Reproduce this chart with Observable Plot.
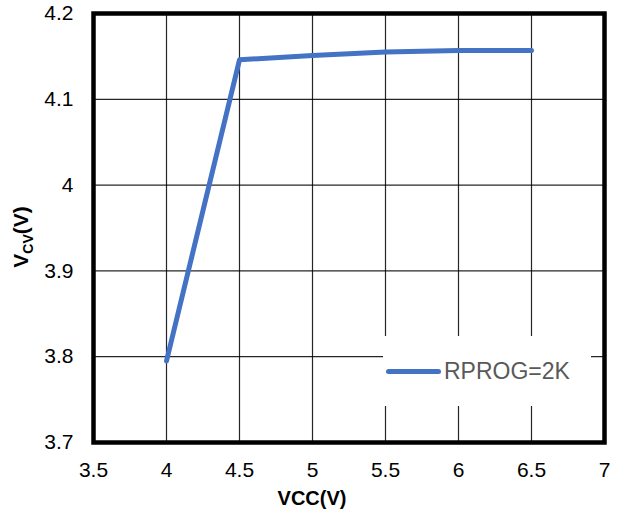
<!DOCTYPE html>
<html>
<head>
<meta charset="utf-8">
<script src="https://cdn.jsdelivr.net/npm/d3@7"></script>
<script src="https://cdn.jsdelivr.net/npm/@observablehq/plot@0.6"></script>
<style>
  body { margin: 0; background: #fff; }
  #wrap { position: relative; width: 620px; height: 515px; font-family: "Liberation Sans", Arial, sans-serif; }
  #legend { position: absolute; left: 383px; top: 336px; width: 208px; height: 70px; background: #fff;
            display: flex; align-items: center; }
  #legend .sw { width: 55px; height: 5px; background: #4472C4; border-radius: 3px; margin-left: 3px; margin-right: 3px; }
  #legend .lb { font-size: 23px; color: #595959; }
</style>
</head>
<body>
<div id="wrap"></div>
<script>
const vcc = [4, 4.5, 5, 5.5, 6, 6.5];
const vcv = [3.795, 4.146, 4.151, 4.155, 4.157, 4.157];
const xTicks = [3.5, 4, 4.5, 5, 5.5, 6, 6.5, 7];
const yTicks = [3.7, 3.8, 3.9, 4.0, 4.1, 4.2];
const yTickLabels = ["3.7", "3.8", "3.9", "4", "4.1", "4.2"];
const seriesName = "RPROG=2K";
const xTitle = "VCC(V)";

const data = vcc.map((x, i) => ({x, y: vcv[i]}));

const chart = Plot.plot({
  width: 620,
  height: 515,
  marginLeft: 93,
  marginRight: 16,
  marginTop: 13,
  marginBottom: 73,
  style: {fontFamily: "'Liberation Sans', Arial, sans-serif", background: "#fff", color: "#000"},
  x: {domain: [3.5, 7]},
  y: {domain: [3.7, 4.2]},
  marks: [
    Plot.ruleX(xTicks, {stroke: "#000", strokeWidth: 1.2, strokeOpacity: 0.85}),
    Plot.ruleY(yTicks, {stroke: "#000", strokeWidth: 1.2, strokeOpacity: 0.85}),
    Plot.axisX(xTicks, {tickSize: 0, tickPadding: 20, fontSize: 21, label: null, tickFormat: d => String(d)}),
    Plot.axisY(yTicks, {tickSize: 0, tickPadding: 20, fontSize: 21, label: null, tickFormat: (d, i) => yTickLabels[i]}),
    Plot.line(data, {x: "x", y: "y", stroke: "#4472C4", strokeWidth: 5, strokeLinejoin: "round", strokeLinecap: "round"}),
    Plot.frame({stroke: "#000", strokeWidth: 4.5})
  ]
});

const wrap = document.getElementById("wrap");
wrap.appendChild(chart);

const svg = d3.select(chart);
const xs = chart.scale("x");
svg.append("text")
  .attr("x", xs.apply(5))
  .attr("y", 505)
  .attr("text-anchor", "middle")
  .attr("font-size", 20)
  .attr("font-weight", "bold")
  .attr("fill", "#000")
  .text(xTitle);

const yt = svg.append("text")
  .attr("transform", "translate(28,237) rotate(-90)")
  .attr("text-anchor", "middle")
  .attr("font-size", 21)
  .attr("font-weight", "bold")
  .attr("fill", "#000");
yt.append("tspan").text("V");
yt.append("tspan").attr("font-size", 14).attr("dy", 5).text("CV");
yt.append("tspan").attr("dy", -5).text("(V)");

const leg = document.createElement("div");
leg.id = "legend";
leg.innerHTML = `<div class="sw"></div><div class="lb">${seriesName}</div>`;
wrap.appendChild(leg);
</script>
</body>
</html>
